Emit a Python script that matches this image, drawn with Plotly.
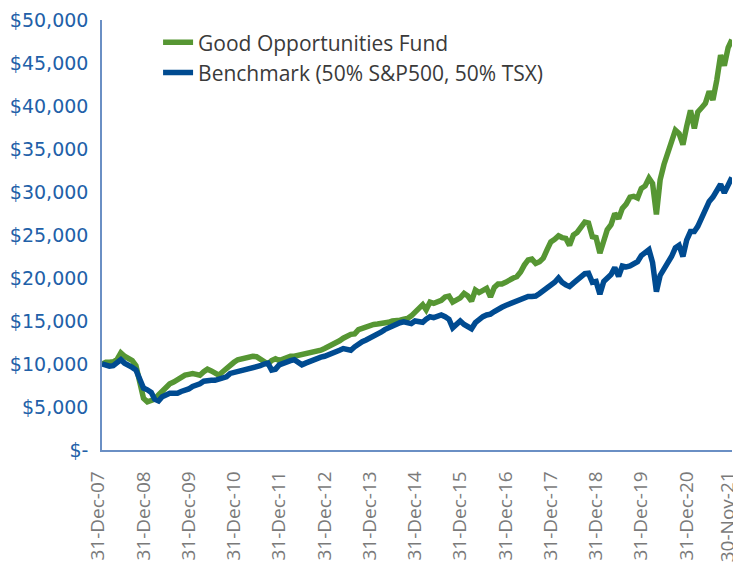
import pandas as pd
import plotly.graph_objects as go

# Monthly month-end dates, 31-Dec-2007 .. 30-Nov-2021
dates = pd.date_range("2007-12-31", periods=168, freq="ME")

fund_name = "Good Opportunities Fund"
bench_name = "Benchmark (50% S&P500, 50% TSX)"

# Growth of $10,000 (in dollars)
fund = [
    10000, 10200, 10200, 10250, 10500, 11300, 10900, 10700, 10400, 9800,
    8100, 6000, 5600, 5700, 5900, 6400, 6900, 7400, 7700, 7900,
    8200, 8400, 8700, 8800, 8900, 8800, 8700, 9100, 9400, 9200,
    9000, 8700, 9100, 9500, 9900, 10200, 10500, 10600, 10800, 10900,
    10900, 10850, 10600, 10300, 10000, 10400, 10600, 10400, 10600, 10800,
    10900, 10900, 11000, 11050, 11100, 11200, 11300, 11450, 11600, 11800,
    12000, 12200, 12400, 12700, 13000, 13300, 13450, 13500, 14000, 14150,
    14300, 14550, 14600, 14650, 14700, 14700, 14850, 15000, 15000, 15100,
    15200, 15300, 15600, 16100, 16600, 16900, 16300, 17200, 17050, 17200,
    17400, 17800, 17900, 17200, 17400, 17700, 18200, 17900, 17300, 18600,
    18300, 18500, 18800, 17800, 18900, 19300, 19300, 19500, 19800, 20000,
    20150, 20700, 21500, 22100, 22200, 21700, 21900, 22300, 23300, 24200,
    24500, 24900, 24700, 24600, 23800, 25000, 25300, 25800, 26500, 26400,
    24800, 24700, 22900, 24300, 25600, 26200, 27500, 26900, 28100, 28600,
    29400, 29500, 29300, 30400, 30700, 31600, 31000, 27400, 31400, 33200,
    34500, 36000, 37200, 36800, 35500, 37600, 39500, 37400, 39300, 39800,
    40300, 41700, 40700, 43000, 45900, 44700, 46800, 47700,
]

bench = [
    10000, 9800, 9750, 9800, 10100, 10500, 10100, 9900, 9600, 9300,
    8200, 7200, 7000, 6700, 5900, 5700, 6200, 6400, 6600, 6600,
    6600, 6800, 6900, 7100, 7400, 7500, 7700, 8000, 8100, 8100,
    8100, 8200, 8300, 8500, 8900, 9000, 9100, 9200, 9400, 9500,
    9600, 9700, 9800, 10000, 10100, 9300, 9400, 9900, 10100, 10200,
    10400, 10500, 10200, 9900, 10100, 10300, 10400, 10600, 10800, 10900,
    11050, 11200, 11400, 11600, 11800, 11700, 11600, 12000, 12400, 12600,
    12800, 13000, 13300, 13500, 13700, 14000, 14200, 14500, 14600, 14800,
    14900, 14800, 14700, 15000, 14900, 14850, 15200, 15500, 15400, 15600,
    15700, 15500, 15200, 14200, 14600, 15000, 14600, 14300, 14100, 14800,
    15200, 15500, 15700, 15800, 16100, 16400, 16600, 16800, 17000, 17200,
    17400, 17600, 17800, 17850, 17850, 17900, 18200, 18500, 19000, 19300,
    19500, 20000, 19500, 19200, 19000, 19400, 19800, 20200, 20500, 20550,
    19500, 19600, 18100, 19600, 19900, 20400, 21200, 20200, 21400, 21300,
    21400, 21700, 21900, 22600, 23000, 23300, 21800, 18400, 20300, 21000,
    21600, 22500, 23500, 23800, 22500, 24400, 25400, 25400, 26000, 27000,
    28200, 28900, 29400, 30100, 30900, 29900, 31000, 31700,
]

tick_dates = ["2007-12-31", "2008-12-31", "2009-12-31", "2010-12-31", "2011-12-31",
              "2012-12-31", "2013-12-31", "2014-12-31", "2015-12-31", "2016-12-31",
              "2017-12-31", "2018-12-31", "2019-12-31", "2020-12-31", "2021-11-30"]
tick_text = ["31-Dec-07", "31-Dec-08", "31-Dec-09", "31-Dec-10", "31-Dec-11",
             "31-Dec-12", "31-Dec-13", "31-Dec-14", "31-Dec-15", "31-Dec-16",
             "31-Dec-17", "31-Dec-18", "31-Dec-19", "31-Dec-20", "30-Nov-21"]

y_vals = [0, 5000, 10000, 15000, 20000, 25000, 30000, 35000, 40000, 45000, 50000]
y_text = ["$-", "$5,000", "$10,000", "$15,000", "$20,000", "$25,000",
          "$30,000", "$35,000", "$40,000", "$45,000", "$50,000"]

GREEN = "#569633"
BLUE = "#004b91"

fig = go.Figure()
fig.add_trace(go.Scatter(x=dates, y=fund, name=fund_name, mode="lines",
                         line=dict(color=GREEN, width=5.5)))
fig.add_trace(go.Scatter(x=dates, y=bench, name=bench_name, mode="lines",
                         line=dict(color=BLUE, width=5.5)))

fig.update_layout(
    width=733, height=565,
    margin=dict(l=102, r=1, t=20, b=115, autoexpand=False),
    plot_bgcolor="white", paper_bgcolor="white",
    showlegend=True,
    legend=dict(x=0.089, y=0.995, xanchor="left", yanchor="top",
                bgcolor="rgba(0,0,0,0)", traceorder="normal",
                font=dict(family="Open Sans", size=21, color="#3a3a3a"),
                itemwidth=30, tracegroupgap=0),
)
fig.update_xaxes(
    range=["2007-12-31", "2021-12-01"],
    tickmode="array", tickvals=tick_dates, ticktext=tick_text,
    tickangle=-90, showgrid=False, zeroline=False,
    showline=True, linecolor="#6a8fc4", linewidth=1.5,
    ticks="", automargin=False, ticklabelshift=-4, ticklabelstandoff=12,
    ticklabeloverflow="allow",
    tickfont=dict(family="Open Sans", size=19, color="#7a7a7a"),
)
fig.update_yaxes(
    range=[0, 50000],
    tickmode="array", tickvals=y_vals, ticktext=y_text,
    showgrid=False, zeroline=False,
    showline=True, linecolor="#6a8fc4", linewidth=1.5,
    ticks="", automargin=False, ticklabelstandoff=8,
    tickfont=dict(family="DejaVu Sans", size=19, color="#2160a8"),
)

fig.write_html(
    "out.html",
    config={"displayModeBar": False},
    post_script="document.body.style.margin='0';document.body.style.padding='0';",
)
